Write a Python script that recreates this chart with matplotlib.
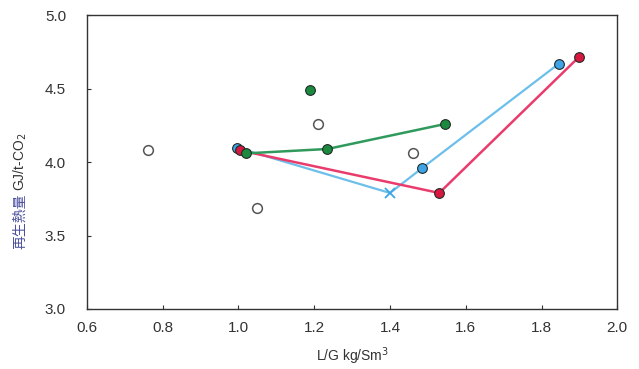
import matplotlib
matplotlib.use("Agg")
import matplotlib.pyplot as plt

plt.rcParams['font.family'] = ['Liberation Sans', 'DejaVu Sans']

# ─── Data ────────────────────────────────────────────────────────────────────
OPEN_X = [0.76, 1.05, 1.21, 1.46]
OPEN_Y = [4.08, 3.69, 4.26, 4.06]

GREEN_SOLO_X = [1.19]
GREEN_SOLO_Y = [4.49]
GREEN_X = [1.02, 1.235, 1.545]
GREEN_Y = [4.06, 4.09, 4.26]

BLUE_X = [0.995, 1.40, 1.485, 1.845]
BLUE_Y = [4.10, 3.79, 3.96, 4.67]
BLUE_CROSS = 1   # index of the point drawn as a cross

RED_X = [1.005, 1.53, 1.90]
RED_Y = [4.08, 3.79, 4.72]

XTICKS = [0.6, 0.8, 1.0, 1.2, 1.4, 1.6, 1.8, 2.0]
YTICKS = [3.0, 3.5, 4.0, 4.5, 5.0]

# ─── Colours ─────────────────────────────────────────────────────────────────
BLUE_LINE = "#6cbfea"
BLUE_MK = "#3ea4e6"
RED_LINE = "#ea3c6c"
RED_MK = "#d8173f"
GREEN_LINE = "#2f9a5c"
GREEN_MK = "#1c8a3e"
EDGE = "#1f2a2a"
KANJI = "#4b4f9e"

fig = plt.figure(figsize=(6.39, 3.69), dpi=100)
ax = fig.add_axes([0.136, 0.163, 0.830, 0.795])

mk = dict(marker="o", markersize=7, markeredgecolor=EDGE, markeredgewidth=0.8)

# blue series: line, round markers, one cross
ax.plot(BLUE_X, BLUE_Y, color=BLUE_LINE, lw=1.6, zorder=2)
bx = [x for i, x in enumerate(BLUE_X) if i != BLUE_CROSS]
by = [y for i, y in enumerate(BLUE_Y) if i != BLUE_CROSS]
ax.plot(bx, by, ls="none", markerfacecolor=BLUE_MK, zorder=4, **mk)
ax.plot([BLUE_X[BLUE_CROSS]], [BLUE_Y[BLUE_CROSS]], ls="none", marker="x",
        markersize=7, markeredgewidth=1.3, color=BLUE_MK, zorder=4)

# red series
ax.plot(RED_X, RED_Y, color=RED_LINE, lw=1.8, zorder=2)
ax.plot(RED_X, RED_Y, ls="none", markerfacecolor=RED_MK, zorder=5, **mk)

# green series
ax.plot(GREEN_X, GREEN_Y, color=GREEN_LINE, lw=1.8, zorder=3)
ax.plot(GREEN_X, GREEN_Y, ls="none", markerfacecolor=GREEN_MK, zorder=6, **mk)
ax.plot(GREEN_SOLO_X, GREEN_SOLO_Y, ls="none", markerfacecolor=GREEN_MK, zorder=6, **mk)

# open circles
ax.plot(OPEN_X, OPEN_Y, ls="none", marker="o", markersize=7,
        markerfacecolor="white", markeredgecolor="#555555", markeredgewidth=1.1, zorder=4)

# ─── Axes ────────────────────────────────────────────────────────────────────
ax.set_xlim(0.6, 2.0)
ax.set_ylim(3.0, 5.0)
ax.set_xticks(XTICKS)
ax.set_xticklabels([f"{t:.1f}" for t in XTICKS])
ax.set_yticks(YTICKS)
ax.set_yticklabels([f"{t:.1f}" for t in YTICKS])
ax.tick_params(axis="x", direction="in", length=3, width=0.8, pad=9,
               labelsize=11, colors="#333333")
ax.tick_params(axis="y", direction="in", length=3, width=0.8, pad=15,
               labelsize=11, colors="#333333")
for sp in ax.spines.values():
    sp.set_color("#333333")
    sp.set_linewidth(1.0)

ax.set_xlabel("L/G kg/Sm$^3$", fontsize=10, color="#333333", labelpad=7)

# y label: kanji part in blue, unit part in dark grey
fig.text(0.031, 0.325, "再生熱量", rotation=90, ha="center", va="bottom",
         fontsize=10, color=KANJI, family=["Noto Sans CJK JP", "DejaVu Sans"])
fig.text(0.031, 0.482, "GJ/t-CO$_2$", rotation=90, ha="center", va="bottom",
         fontsize=10, color="#333333")

fig.savefig("out.png", dpi=100)
